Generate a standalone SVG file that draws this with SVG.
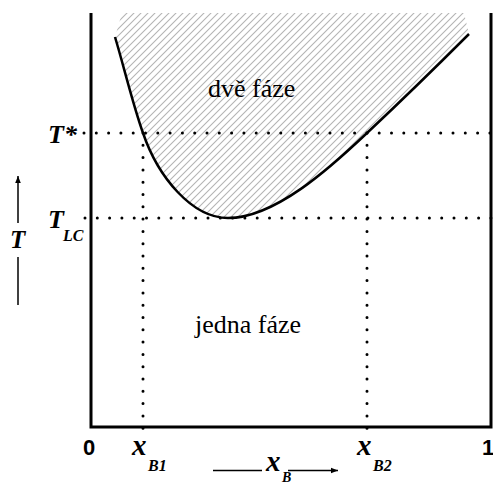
<svg xmlns="http://www.w3.org/2000/svg" width="493" height="486" viewBox="0 0 493 486">
<style>
.axis{stroke:#000;stroke-width:3;fill:none}
.dot{stroke:#000;stroke-width:3;stroke-linecap:round;stroke-dasharray:0 12.3;fill:none}
.curve{stroke:#000;stroke-width:2.5;fill:none}
.thin{stroke:#000;stroke-width:1.5;fill:none}
.lbl{font-family:"Liberation Serif","Times New Roman",serif;font-size:26px;fill:#000}
.bi{font-family:"Liberation Serif","Times New Roman",serif;font-weight:bold;font-style:italic;fill:#000}
.num{font-family:"Liberation Sans",Arial,sans-serif;font-weight:bold;font-size:22px;fill:#000}
</style>
<defs>
<pattern id="hatch" patternUnits="userSpaceOnUse" width="7" height="7">
<path d="M-1,8 L8,-1 M-1,1 L1,-1 M6,8 L8,6" stroke="#b4b4b4" stroke-width="1.1"/>
</pattern>
<marker id="ah" viewBox="0 0 10 10" refX="10" refY="5" markerWidth="7" markerHeight="7" markerUnits="userSpaceOnUse" orient="auto">
<path d="M0,1 L10,5 L0,9 Z" fill="#000"/>
</marker>
</defs>
<g id="two-phase-region">
<path d="M115,37 C124,67 133,105 143,133 C158,177 192,218 228,218 C275,218 330,168 367,133 C400,102 435,68 469,34 L464,13 L122,13 Z" fill="url(#hatch)"/>
</g>
<g id="axes">
<path class="axis" d="M91,13 L91,427 L491,427 L491,13"/>
</g>
<g id="connectors">
<path class="dot" d="M84,133 L491,133"/>
<path class="dot" d="M85,218 L491,218"/>
<path class="dot" d="M143,133 L143,434"/>
<path class="dot" d="M367,133 L367,434"/>
<path class="thin" d="M18,305 L18,257"/>
<path class="thin" d="M18,223 L18,176" marker-end="url(#ah)"/>
<path class="thin" d="M213,470.5 L262,470.5"/>
<path class="thin" d="M288,470.5 L338,470.5" marker-end="url(#ah)"/>
</g>
<g id="binodal">
<path class="curve" d="M115,37 C124,67 133,105 143,133 C158,177 192,218 228,218 C275,218 330,168 367,133 C400,102 435,68 469,34"/>
</g>
<g id="labels">
<text class="lbl" x="208" y="97">dvě fáze</text>
<text class="lbl" x="195" y="333">jedna fáze</text>
<text class="bi" x="48" y="143" font-size="26">T*</text>
<text class="bi" x="48" y="228" font-size="26">T</text>
<text class="bi" x="63" y="241" font-size="16">LC</text>
<text class="bi" x="10" y="248" font-size="25">T</text>
<text class="num" x="83" y="455">0</text>
<text class="num" x="482" y="455">1</text>
<text class="bi" x="132" y="455" font-size="29">x</text>
<text class="bi" x="148" y="471" font-size="16">B1</text>
<text class="bi" x="357" y="455" font-size="29">x</text>
<text class="bi" x="373" y="471" font-size="16">B2</text>
<text class="bi" x="266" y="471" font-size="29">x</text>
<text class="bi" x="282" y="482" font-size="14">B</text>
</g>
</svg>
